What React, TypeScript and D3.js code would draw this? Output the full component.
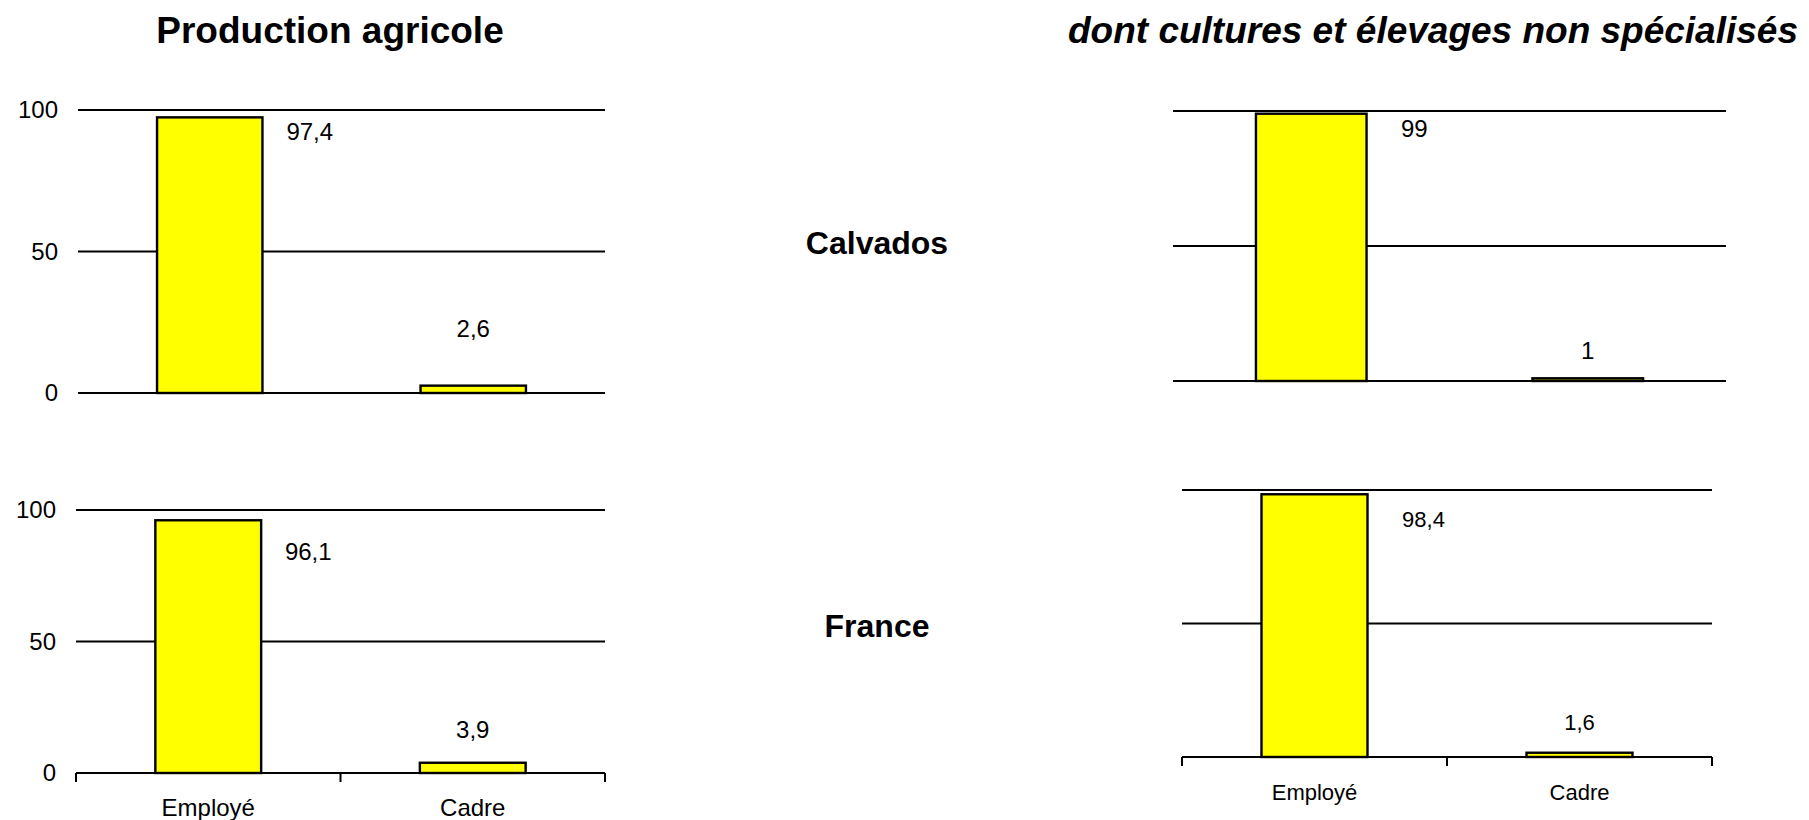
import React from "react";
import * as d3 from "d3";

// categories and tick values
const categories = ["Employé", "Cadre"];
const yTicks = [0, 50, 100];

// percent values per panel
const prodCalvados = [97.4, 2.6];
const prodFrance = [96.1, 3.9];
const mixteCalvados = [99, 1];
const mixteFrance = [98.4, 1.6];

const columnTitles = ["Production agricole", "dont cultures et élevages non spécialisés"];
const rowLabels = ["Calvados", "France"];

const FONT = "'Liberation Sans', Arial, Helvetica, sans-serif";

// layout of each small chart (pixel boxes + label nudges)
const panels = [
  { values: prodCalvados, x0: 78, x1: 605, top: 110, bottom: 393, yLabels: true, xAxis: false, fs: 24, empDx: 100, empDy: 14, cadDy: -57 },
  { values: prodFrance, x0: 76, x1: 605, top: 510, bottom: 773, yLabels: true, xAxis: true, fs: 24, empDx: 100, empDy: 31, cadDy: -33 },
  { values: mixteCalvados, x0: 1173, x1: 1726, top: 111, bottom: 381, yLabels: false, xAxis: false, fs: 24, empDx: 103, empDy: 15, cadDy: -28 },
  { values: mixteFrance, x0: 1182, x1: 1712, top: 490, bottom: 757, yLabels: false, xAxis: true, fs: 22, empDx: 109, empDy: 25, cadDy: -30 },
];

const fmt = (v) => String(v).replace(".", ",");

function Panel({ p }) {
  const x = d3.scaleBand().domain(categories).range([p.x0, p.x1]).paddingInner(0.6).paddingOuter(0.3);
  const y = d3.scaleLinear().domain([0, 100]).range([p.bottom, p.top]);
  const step = x.step();
  return (
    <g>
      {yTicks.map((t) => (
        <g key={t}>
          <line x1={p.x0} x2={p.x1} y1={y(t)} y2={y(t)} stroke="#000" strokeWidth={2} />
          {p.yLabels && (
            <text x={p.x0 - 20} y={y(t)} dy="0.35em" textAnchor="end" fontSize={24} fontFamily={FONT}>
              {t}
            </text>
          )}
        </g>
      ))}
      {p.values.map((v, i) => (
        <rect
          key={i}
          x={x(categories[i])}
          y={y(v)}
          width={x.bandwidth()}
          height={y(0) - y(v)}
          fill="#FFFF00"
          stroke="#000"
          strokeWidth={2.4}
        />
      ))}
      {p.values.map((v, i) => {
        const cx = x(categories[i]) + x.bandwidth() / 2;
        const lx = i === 0 ? cx + p.empDx : cx;
        const ly = i === 0 ? y(v) + p.empDy : y(v) + p.cadDy;
        return (
          <text key={"l" + i} x={lx} y={ly} dy="0.35em" textAnchor="middle" fontSize={p.fs} fontFamily={FONT}>
            {fmt(v)}
          </text>
        );
      })}
      {p.xAxis && (
        <g>
          {[0, 1, 2].map((k) => (
            <line key={k} x1={p.x0 + k * step} x2={p.x0 + k * step} y1={y(0)} y2={y(0) + 9} stroke="#000" strokeWidth={2} />
          ))}
          {categories.map((c) => (
            <text key={c} x={x(c) + x.bandwidth() / 2} y={y(0) + 35} dy="0.35em" textAnchor="middle" fontSize={p.fs} fontFamily={FONT}>
              {c}
            </text>
          ))}
        </g>
      )}
    </g>
  );
}

export default function App() {
  return (
    <svg width={1809} height={820} style={{ position: "absolute", left: 0, top: 0, background: "#fff" }}>
      <text x={330} y={43} textAnchor="middle" fontSize={37} fontWeight="bold" fontFamily={FONT}>
        {columnTitles[0]}
      </text>
      <text x={1433} y={43} textAnchor="middle" fontSize={37} fontWeight="bold" fontStyle="italic" fontFamily={FONT}>
        {columnTitles[1]}
      </text>
      <text x={877} y={243} dy="0.35em" textAnchor="middle" fontSize={32} fontWeight="bold" fontFamily={FONT}>
        {rowLabels[0]}
      </text>
      <text x={877} y={626} dy="0.35em" textAnchor="middle" fontSize={32} fontWeight="bold" fontFamily={FONT}>
        {rowLabels[1]}
      </text>
      {panels.map((p, i) => (
        <Panel key={i} p={p} />
      ))}
    </svg>
  );
}
